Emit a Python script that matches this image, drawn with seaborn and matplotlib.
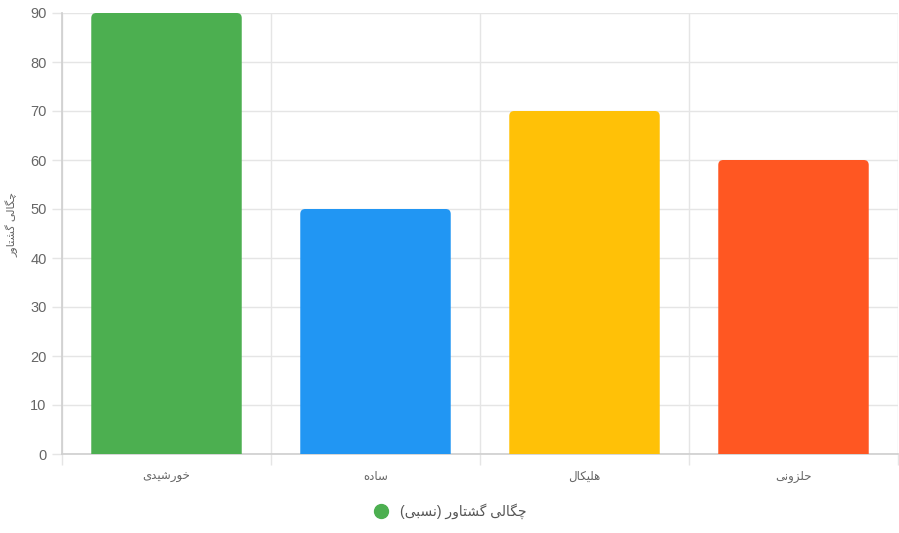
import matplotlib
matplotlib.use("Agg")
import matplotlib.pyplot as plt
from matplotlib.patches import FancyBboxPatch
from matplotlib.lines import Line2D
import seaborn as sns
import pandas as pd

# chart data
categories = ["خورشیدی", "ساده", "هلیکال", "حلزونی"]
values = [90, 50, 70, 60]
colors = ["#4CAF50", "#2196F3", "#FFC107", "#FF5722"]
series_label = "چگالی گشتاور (نسبی)"
y_label = "چگالی گشتاور"
y_ticks = [0, 10, 20, 30, 40, 50, 60, 70, 80, 90]

# minimal arabic/persian shaping (matplotlib has no text shaping)
# forms: isolated, final, initial, medial
FORMS = {
    "ا": ("\uFE8D", "\uFE8E"),
    "ب": ("\uFE8F", "\uFE90", "\uFE91", "\uFE92"),
    "ت": ("\uFE95", "\uFE96", "\uFE97", "\uFE98"),
    "ح": ("\uFEA1", "\uFEA2", "\uFEA3", "\uFEA4"),
    "خ": ("\uFEA5", "\uFEA6", "\uFEA7", "\uFEA8"),
    "د": ("\uFEA9", "\uFEAA"),
    "ر": ("\uFEAD", "\uFEAE"),
    "ز": ("\uFEAF", "\uFEB0"),
    "س": ("\uFEB1", "\uFEB2", "\uFEB3", "\uFEB4"),
    "ش": ("\uFEB5", "\uFEB6", "\uFEB7", "\uFEB8"),
    "ل": ("\uFEDD", "\uFEDE", "\uFEDF", "\uFEE0"),
    "ن": ("\uFEE5", "\uFEE6", "\uFEE7", "\uFEE8"),
    "ه": ("\uFEE9", "\uFEEA", "\uFEEB", "\uFEEC"),
    "و": ("\uFEED", "\uFEEE"),
    "ی": ("\uFBFC", "\uFBFD", "\uFBFE", "\uFBFF"),
    "ک": ("\uFB8E", "\uFB8F", "\uFB90", "\uFB91"),
    "گ": ("\uFB92", "\uFB93", "\uFB94", "\uFB95"),
    "چ": ("\uFB7A", "\uFB7B", "\uFB7C", "\uFB7D"),
}


def shape(text):
    out = []
    for i, ch in enumerate(text):
        if ch not in FORMS:
            out.append(ch)
            continue
        f = FORMS[ch]
        prev = text[i - 1] if i > 0 else ""
        nxt = text[i + 1] if i + 1 < len(text) else ""
        join_prev = prev in FORMS and len(FORMS[prev]) == 4
        join_next = nxt in FORMS and len(f) == 4
        if join_prev and join_next:
            out.append(f[3])
        elif join_prev:
            out.append(f[1])
        elif join_next:
            out.append(f[2])
        else:
            out.append(f[0])
    vis = "".join(reversed(out))
    return vis.translate(str.maketrans("()", ")("))


sns.set_theme(style="white")
plt.rcParams["font.family"] = ["Liberation Sans", "DejaVu Sans"]

df = pd.DataFrame({"cat": [shape(c) for c in categories], "val": values})

fig = plt.figure(figsize=(8.99, 5.33), dpi=100)
ax = fig.add_axes([62 / 899, 79 / 533, 836 / 899, 441 / 533])

sns.barplot(data=df, x="cat", y="val", hue="cat", palette=colors,
            saturation=1, width=0.72, legend=False, ax=ax, zorder=3)

# swap rectangles for bars with rounded top corners
px_x = 4.0 / 836   # one pixel in x data units
px_y = 90.0 / 441  # one pixel in y data units
for p in list(ax.patches):
    x0, w, h = p.get_x(), p.get_width(), p.get_height()
    fc = p.get_facecolor()
    p.remove()
    bar = FancyBboxPatch((x0, -3), w, h + 3,
                         boxstyle="round,pad=0,rounding_size=%f" % (5 * px_x),
                         mutation_aspect=px_y / px_x,
                         facecolor=fc, edgecolor="none", zorder=3)
    ax.add_patch(bar)

ax.set_ylim(0, 90)
ax.set_xlim(-0.5, 3.5)
ax.set_yticks(y_ticks)
ax.set_xticks([0, 1, 2, 3])
ax.set_xticks([-0.5, 0.5, 1.5, 2.5, 3.5], minor=True)

ax.grid(axis="y", color="#e5e5e5", linewidth=1, zorder=0)
ax.grid(axis="x", which="minor", color="#e5e5e5", linewidth=1, zorder=0)
ax.grid(axis="x", which="major", visible=False)

ax.tick_params(axis="y", length=7, width=1, color="#e5e5e5", labelsize=10.5,
               labelcolor="#666666", pad=4, left=True)
ax.tick_params(axis="x", which="major", length=0, labelsize=8.5,
               labelcolor="#666666", pad=12)
ax.tick_params(axis="x", which="minor", length=8, width=1, color="#e5e5e5",
               bottom=True)

for s in ["top", "right"]:
    ax.spines[s].set_visible(False)
ax.spines["left"].set_color("#d0d0d0")
ax.spines["bottom"].set_color("#d0d0d0")

ax.set_xlabel("")
ax.set_ylabel(shape(y_label), fontsize=8, color="#666666", labelpad=8)
ax.yaxis.set_label_coords(-0.052, 0.52)

handle = Line2D([], [], marker="o", linestyle="none", markersize=10,
                markerfacecolor=colors[0], markeredgecolor=colors[0])
fig.legend([handle], [shape(series_label)], loc="center",
           bbox_to_anchor=(0.497, 1 - 511 / 533), frameon=False,
           handletextpad=0.3, prop={"size": 10},
           labelcolor="#555555")

fig.savefig("out.png", dpi=100)
